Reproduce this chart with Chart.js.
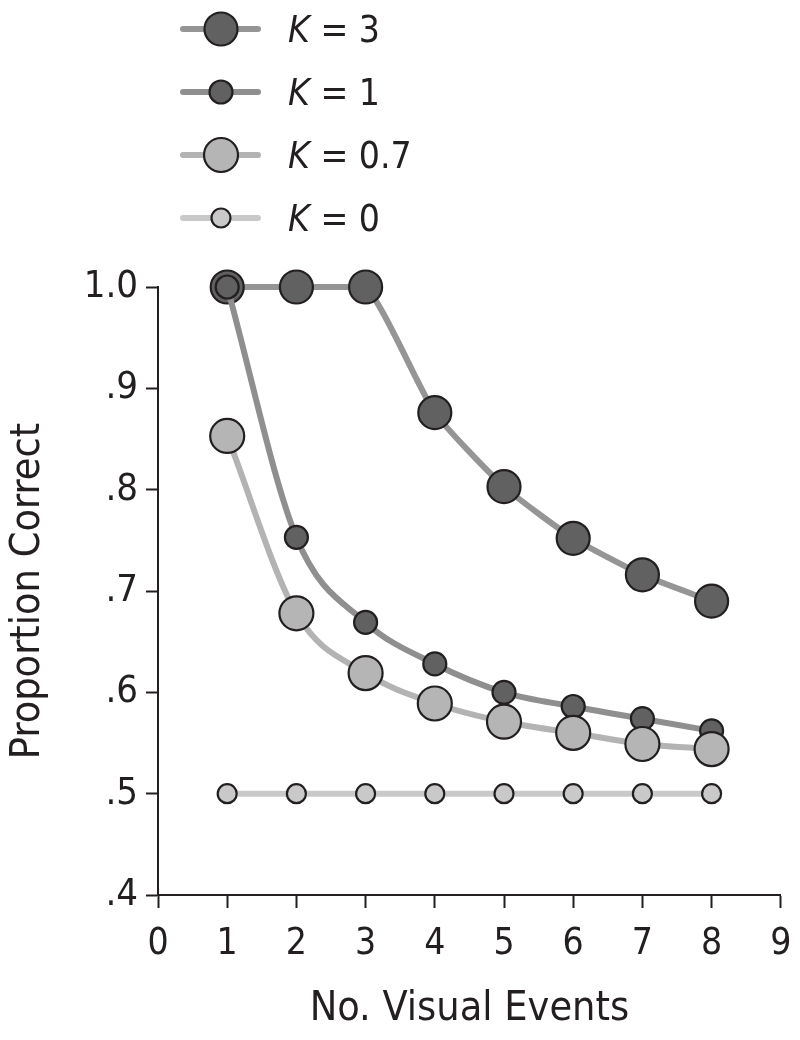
<!DOCTYPE html>
<html>
<head>
<meta charset="utf-8">
<script src="https://cdn.jsdelivr.net/npm/chart.js@4.4.1/dist/chart.umd.min.js"></script>
<style>
  html, body { margin: 0; padding: 0; background: #fff; }
  #myChart { display: block; }
</style>
</head>
<body>
<canvas id="myChart" width="800" height="1040"></canvas>
<script>
// number of visual events
const labels = [1, 2, 3, 4, 5, 6, 7, 8];

const K3Data  = [1.000, 1.000, 1.000, 0.876, 0.803, 0.752, 0.716, 0.690];
const K1Data  = [1.000, 0.753, 0.669, 0.628, 0.600, 0.586, 0.574, 0.562];
const K07Data = [0.853, 0.678, 0.619, 0.589, 0.571, 0.560, 0.549, 0.544];
const K0Data  = [0.500, 0.500, 0.500, 0.500, 0.500, 0.500, 0.500, 0.500];

const seriesNames = ['3', '1', '0.7', '0'];
const xTickValues = [0, 1, 2, 3, 4, 5, 6, 7, 8, 9];
const yTickValues = [0.4, 0.5, 0.6, 0.7, 0.8, 0.9, 1.0];

const FONT = "'Liberation Sans Narrow', 'DejaVu Sans Condensed', sans-serif";
const INK = '#231f20';

function toPoints(values) {
  return labels.map((x, i) => ({ x: x, y: values[i] }));
}

function series(name, values, lineColor, fill, radius, order) {
  return {
    label: name,
    data: toPoints(values),
    borderColor: lineColor,
    borderWidth: 6,
    pointBackgroundColor: fill,
    pointBorderColor: INK,
    pointBorderWidth: 2.2,
    pointRadius: radius,
    cubicInterpolationMode: 'monotone',
    fill: false,
    clip: false,
    order: order
  };
}

const data = {
  datasets: [
    series(seriesNames[0], K3Data, '#959595', '#616161', 16.5, 4),
    series(seriesNames[1], K1Data, '#8f8f8f', '#616161', 11.5, 3),
    series(seriesNames[2], K07Data, '#b3b3b3', '#b5b5b5', 17, 2),
    series(seriesNames[3], K0Data, '#c9c9c9', '#c9c9c9', 9.5, 1)
  ]
};
// K = 3 bends straight off its plateau, so a plain bezier fits it better
data.datasets[0].cubicInterpolationMode = 'default';
data.datasets[0].tension = 0.18;

// legend: line + marker + "K = n" (italic K)
const legendLines = {
  id: 'legendLines',
  afterDraw(chart) {
    const ctx = chart.ctx;
    chart.data.datasets.forEach((ds, i) => {
      const y = 29 + i * 63;
      ctx.save();
      ctx.lineCap = 'round';
      ctx.strokeStyle = ds.borderColor;
      ctx.lineWidth = ds.borderWidth;
      ctx.beginPath();
      ctx.moveTo(183, y);
      ctx.lineTo(258, y);
      ctx.stroke();

      ctx.beginPath();
      ctx.arc(221, y, ds.pointRadius, 0, Math.PI * 2);
      ctx.fillStyle = ds.pointBackgroundColor;
      ctx.fill();
      ctx.lineWidth = ds.pointBorderWidth;
      ctx.strokeStyle = ds.pointBorderColor;
      ctx.stroke();

      ctx.fillStyle = INK;
      ctx.textBaseline = 'alphabetic';
      ctx.font = 'italic 37px ' + FONT;
      ctx.fillText('K', 288, y + 13);
      const wK = ctx.measureText('K').width;
      ctx.font = '37px ' + FONT;
      ctx.fillText(' = ' + ds.label, 288 + wK, y + 13);
      ctx.restore();
    });
  }
};

const config = {
  type: 'line',
  data: data,
  plugins: [legendLines],
  options: {
    responsive: false,
    animation: false,
    events: [],
    layout: {
      padding: { top: 287, right: 18, left: 0, bottom: 0 }
    },
    plugins: {
      legend: { display: false },
      tooltip: { enabled: false }
    },
    scales: {
      x: {
        type: 'linear',
        min: 0,
        max: 9,
        afterBuildTicks: (scale) => { scale.ticks = xTickValues.map(v => ({ value: v })); },
        afterFit: (scale) => {
          scale.height = 145;
          scale.paddingLeft = 0;
          scale.paddingRight = 0;
        },
        ticks: {
          color: INK,
          font: { family: FONT, size: 37 },
          padding: 14,
          callback: (v) => String(v)
        },
        grid: {
          drawOnChartArea: false,
          drawTicks: true,
          tickLength: 13,
          tickColor: INK,
          tickWidth: 2
        },
        border: { color: INK, width: 2 },
        title: {
          display: true,
          text: 'No. Visual Events',
          color: INK,
          font: { family: FONT, size: 41 },
          padding: { top: 0, bottom: 6 }
        }
      },
      y: {
        min: 0.4,
        max: 1.0,
        afterBuildTicks: (scale) => { scale.ticks = yTickValues.map(v => ({ value: v })); },
        afterFit: (scale) => { scale.width = 158; },
        ticks: {
          color: INK,
          font: { family: FONT, size: 38 },
          padding: 8,
          callback: (v) => v >= 0.999 ? '1.0' : v.toFixed(1).replace(/^0/, '')
        },
        grid: {
          drawOnChartArea: false,
          drawTicks: true,
          tickLength: 12,
          tickColor: INK,
          tickWidth: 2
        },
        border: { color: INK, width: 2 },
        title: {
          display: true,
          text: 'Proportion Correct',
          color: INK,
          font: { family: FONT, size: 41 },
          padding: { top: 4, bottom: 0 }
        }
      }
    }
  }
};

const ctx = document.getElementById('myChart').getContext('2d');
const myChart = new Chart(ctx, config);
</script>
</body>
</html>
